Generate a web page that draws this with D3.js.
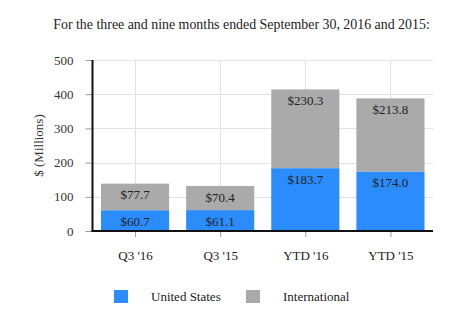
<!DOCTYPE html>
<html><head><meta charset="utf-8">
<script src="https://cdn.jsdelivr.net/npm/d3@7"></script>
<style>
body{margin:0;background:#fff;}
svg{display:block;font-family:"Liberation Serif","Times New Roman",serif;}
svg text{font-family:"Liberation Serif","Times New Roman",serif;}
</style></head>
<body>
<svg id="c" width="466" height="333"></svg>
<script>
const categories = ["Q3 '16", "Q3 '15", "YTD '16", "YTD '15"];
const seriesNames = ["United States", "International"];
const usValues = [60.7, 61.1, 183.7, 174.0];
const intlValues = [77.7, 70.4, 230.3, 213.8];
const yTicks = [0, 100, 200, 300, 400, 500];
const colors = ["#2a8cfd", "#aaaaaa"];
const titleText = "For the three and nine months ended September 30, 2016 and 2015:";
const yLabel = "$ (Millions)";

(function () {
const svg = d3.select("#c");
const pl = 92.5, pr = 433, pt = 60, pb = 231;

const x = d3.scaleBand().domain(categories).range([pl, pr]).paddingInner(0.2).paddingOuter(0.1);
const xc = d3.scalePoint().domain(categories).range([pl, pr]).padding(0.5);
const y = d3.scaleLinear().domain([0, 500]).range([pb, pt]);

svg.append("text").attr("x", 241.5).attr("y", 29).attr("text-anchor", "middle")
  .attr("font-size", 13.9).attr("fill", "#222").text(titleText);

// gridlines
svg.append("g").selectAll("line").data(yTicks.filter(d => d > 0)).join("line")
  .attr("x1", pl).attr("x2", pr).attr("y1", d => Math.round(y(d)) + 0.5).attr("y2", d => Math.round(y(d)) + 0.5)
  .attr("stroke", "#e2e2e2");
svg.append("g").selectAll("line").data(categories).join("line")
  .attr("x1", d => Math.round(xc(d)) + 0.5).attr("x2", d => Math.round(xc(d)) + 0.5)
  .attr("y1", pt).attr("y2", pb)
  .attr("stroke", "#e2e2e2");

// bars
const stackData = categories.map((c, i) => ({cat: c, us: usValues[i], intl: intlValues[i]}));
const stack = d3.stack().keys(["us", "intl"])(stackData);
const g = svg.append("g");
stack.forEach((s, si) => {
  g.append("g").selectAll("rect").data(s).join("rect")
    .attr("x", d => x(d.data.cat)).attr("width", x.bandwidth())
    .attr("y", d => y(d[1])).attr("height", d => y(d[0]) - y(d[1]))
    .attr("fill", colors[si]);
  g.append("g").selectAll("text").data(s).join("text")
    .attr("x", d => x(d.data.cat) + x.bandwidth() / 2)
    .attr("y", d => y(d[1]) + 15.5)
    .attr("text-anchor", "middle").attr("font-size", 13).attr("fill", "#222")
    .text(d => "$" + (d[1] - d[0]).toFixed(1));
});

// y axis
const yAxis = svg.append("g").attr("transform", `translate(${pl},0)`)
  .call(d3.axisLeft(y).tickValues(yTicks).tickSize(7).tickPadding(12).tickFormat(d3.format("d")));
yAxis.attr("font-family", null);
yAxis.select(".domain").remove();
yAxis.selectAll(".tick line").attr("stroke", "#999");
yAxis.selectAll("text").attr("font-size", 13).attr("fill", "#333");
svg.append("line").attr("x1", pl).attr("x2", pl).attr("y1", pt).attr("y2", pb + 1)
  .attr("stroke", "#111").attr("stroke-width", 2);

// x axis
const xAxis = svg.append("g").attr("transform", `translate(0,${pb})`)
  .call(d3.axisBottom(xc).tickSize(6).tickPadding(14));
xAxis.attr("font-family", null);
xAxis.select(".domain").remove();
xAxis.selectAll(".tick line").attr("stroke", "#999");
xAxis.selectAll("text").attr("font-size", 13).attr("fill", "#222");
svg.append("line").attr("x1", pl - 1).attr("x2", pr).attr("y1", pb).attr("y2", pb)
  .attr("stroke", "#111").attr("stroke-width", 2);

// y label
svg.append("text").attr("transform", `translate(43,${(pt + pb) / 2}) rotate(-90)`)
  .attr("text-anchor", "middle").attr("font-size", 13).attr("fill", "#333").text(yLabel);

// legend
const legX = [114, 246];
const leg = svg.append("g");
seriesNames.forEach((n, i) => {
  leg.append("rect").attr("x", legX[i]).attr("y", 290).attr("width", 14).attr("height", 13).attr("fill", colors[i]);
  leg.append("text").attr("x", legX[i] + 37).attr("y", 301).attr("font-size", 13).attr("fill", "#222").text(n);
});
})();
</script>
</body></html>
